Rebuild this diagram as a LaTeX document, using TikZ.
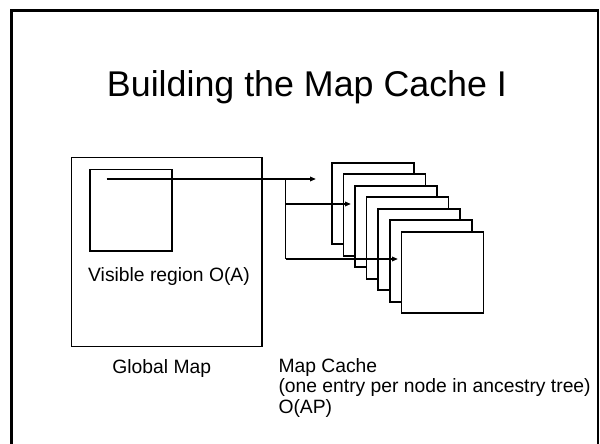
\documentclass[tikz,border=0pt]{standalone}
\usepackage{fontspec}
\setmainfont{Liberation Sans}
\usetikzlibrary{arrows.meta}
\begin{document}
\begin{tikzpicture}[x=1pt,y=-1pt,
  box/.style={draw,line width=1.6pt,fill=white,inner sep=0pt,outer sep=0pt,anchor=north west},
  cache/.style={box,minimum width=82pt,minimum height=81.5pt},
  feed/.style={line width=1.6pt},
  feedarrow/.style={feed,-{Triangle[length=6pt,width=4.5pt]}},
  label/.style={font=\fontsize{19.3}{20.5}\selectfont,inner sep=0pt,anchor=base west}]
\useasboundingbox (0,0) rectangle (600,444);
\fill[white] (0,0) rectangle (600,444);

% slide frame
\draw[line width=2.8pt] (11.3,446) -- (11.3,10.3) -- (598.5,10.3);
\draw[line width=1.5pt] (598.2,10.3) -- (598.2,446);

% title
\node[font=\fontsize{35.8}{37}\selectfont,inner sep=0pt,anchor=base] (title) at (307,96.3) {Building the Map Cache I};

% global map with its visible region
\node[box,minimum width=190.5pt,minimum height=189pt] (gmap) at (71.5,157.3) {};
\node[box,minimum width=81.7pt,minimum height=81.4pt] (vis) at (90,169.3) {};
\node[label] (vislabel) at (88,281.7) {Visible region O(A)};
\node[label] (gmaplabel) at (112.2,373.3) {Global Map};

% stack of cache entries, back to front
\node[cache] (c1) at (331.7,162.7) {};
\node[cache] (c2) at (343.3,174.2) {};
\node[cache] (c3) at (354.9,185.7) {};
\node[cache] (c4) at (366.5,197.2) {};
\node[cache] (c5) at (378.1,208.7) {};
\node[cache] (c6) at (389.7,220.2) {};
\node[cache] (c7) at (401.3,231.7) {};

% feeds from the visible region into the cache
\coordinate (src) at (106.7,179);
\coordinate (j1) at (285.5,179);
\coordinate (j2) at (285.5,204);
\coordinate (j3) at (285.5,259);
\coordinate (t1) at (316,179);
\coordinate (t2) at (351,204);
\coordinate (t3) at (398,259);
\draw[feedarrow] (src) -- (t1);
\draw[feed] (j1) -- (j3);
\draw[feedarrow] (j2) -- (t2);
\draw[feedarrow] (j3) -- (t3);

% cache caption
\node[label] (mc1) at (278.3,372.3) {Map Cache};
\node[label] (mc2) at ([yshift=-20.5pt]mc1.base west) {(one entry per node in ancestry tree)};
\node[label] (mc3) at ([yshift=-20.5pt]mc2.base west) {O(AP)};
\end{tikzpicture}
\end{document}
